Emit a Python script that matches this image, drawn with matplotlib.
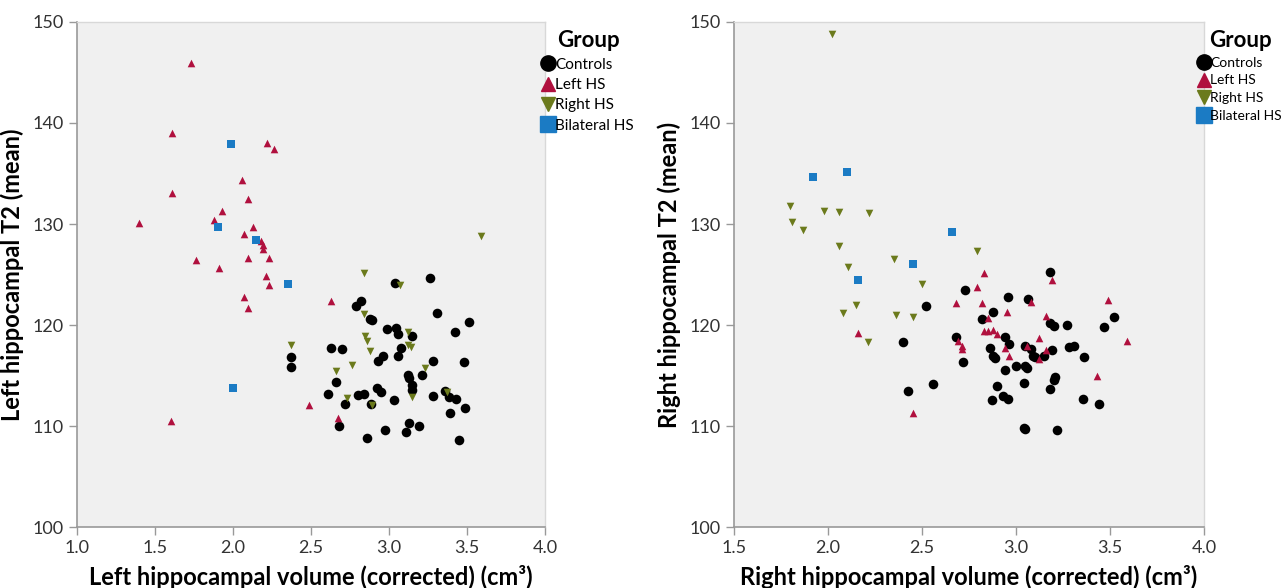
import matplotlib.pyplot as plt
from matplotlib.lines import Line2D

plt.rcParams['font.family'] = ['Lato', 'DejaVu Sans']

# ---- left panel data (volume, T2) ----
l_ctrl_x = [2.37, 2.37, 3.26, 3.04, 2.82, 2.79, 3.31, 3.51, 2.88, 2.89, 3.42, 2.99, 3.045, 3.06, 3.15,
            2.63, 2.70, 3.075, 2.96, 3.055, 2.93, 3.28, 3.48, 3.12, 3.125, 3.21, 2.66, 3.15, 3.15, 2.92,
            2.95, 2.61, 2.80, 2.84, 3.28, 3.36, 3.385, 3.43, 3.03, 2.72, 2.885, 3.49, 3.39, 2.68, 2.975,
            3.13, 3.19, 3.11, 2.86, 3.45]
l_ctrl_y = [116.8, 115.8, 124.7, 124.2, 122.4, 121.9, 121.2, 120.3, 120.6, 120.5, 119.3, 119.6, 119.7, 119.1, 118.9,
            117.7, 117.6, 117.7, 116.9, 116.9, 116.4, 116.4, 116.3, 115.1, 114.8, 115.1, 114.4, 114.1, 113.6, 113.8,
            113.4, 113.2, 113.1, 113.2, 113.0, 113.5, 112.9, 112.7, 112.6, 112.2, 112.2, 111.8, 111.3, 110.0, 109.6,
            110.3, 110.0, 109.4, 108.8, 108.6]

l_lhs_x = [1.73, 1.61, 2.215, 2.26, 2.06, 1.61, 2.095, 1.93, 1.40, 1.88, 2.13, 2.07, 2.18, 2.19, 2.19,
           1.76, 2.095, 2.23, 1.91, 2.21, 2.23, 2.07, 2.095, 2.63, 2.49, 1.60, 2.675]
l_lhs_y = [145.9, 139.0, 138.0, 137.4, 134.4, 133.1, 132.5, 131.3, 130.1, 130.4, 129.7, 129.0, 128.3, 127.9, 127.5,
           126.4, 126.6, 126.6, 125.6, 124.9, 124.0, 122.8, 121.7, 122.4, 112.1, 110.5, 110.8]

l_rhs_x = [2.37, 2.66, 3.59, 2.84, 3.07, 2.84, 3.12, 2.845, 2.86, 3.12, 3.14, 2.88, 3.23, 2.765,
           3.37, 2.73, 3.15, 2.89]
l_rhs_y = [118.0, 115.4, 128.8, 125.1, 124.0, 121.1, 119.3, 118.9, 118.4, 118.0, 117.8, 117.4, 115.7, 116.0,
           113.4, 112.8, 112.9, 112.1]

l_bil_x = [1.985, 1.905, 2.15, 2.35, 2.00]
l_bil_y = [137.9, 129.7, 128.4, 124.1, 113.8]

# ---- right panel data ----
r_ctrl_x = [2.52, 2.40, 3.18, 2.73, 2.955, 3.065, 2.88, 3.52, 2.82, 3.18, 3.20, 3.27, 3.47, 2.68,
            2.94, 2.96, 3.05, 2.86, 3.08, 3.19, 3.28, 3.31, 2.88, 2.89, 3.09, 3.10, 3.15, 3.36, 2.72,
            3.00, 3.05, 3.06, 2.94, 3.205, 3.20, 2.56, 2.90, 3.04, 3.18, 2.425, 2.93, 2.955, 2.87,
            3.355, 3.44, 3.045, 3.05, 3.22]
r_ctrl_y = [121.9, 118.3, 125.2, 123.5, 122.8, 122.6, 121.3, 120.8, 120.6, 120.2, 119.9, 120.0, 119.8, 118.8,
            118.8, 118.1, 117.9, 117.7, 117.6, 117.5, 117.8, 117.9, 116.9, 116.7, 116.9, 116.8, 116.9, 116.8, 116.3,
            115.9, 115.9, 115.7, 115.5, 114.9, 114.6, 114.2, 114.0, 114.3, 113.7, 113.5, 113.0, 112.7, 112.6,
            112.7, 112.2, 109.8, 109.7, 109.6]

r_lhs_x = [2.16, 2.83, 3.19, 2.79, 3.49, 3.08, 2.68, 2.82, 2.95, 3.16, 2.85, 2.83, 2.85, 2.88, 2.90,
           3.59, 2.69, 2.71, 2.71, 3.12, 2.94, 3.06, 3.16, 2.96, 3.12, 3.43, 2.45]
r_lhs_y = [119.2, 125.1, 124.5, 123.8, 122.5, 122.3, 122.2, 122.2, 121.3, 120.9, 120.7, 119.4, 119.4, 119.5, 119.1,
           118.4, 118.4, 117.9, 117.6, 118.7, 117.7, 117.9, 117.5, 116.9, 116.6, 115.0, 111.3]

r_rhs_x = [2.02, 1.80, 1.98, 2.06, 2.22, 1.81, 1.865, 2.06, 2.35, 2.105, 2.50, 2.15, 2.08, 2.36, 2.45,
           2.21, 2.79]
r_rhs_y = [148.8, 131.8, 131.3, 131.2, 131.1, 130.2, 129.4, 127.8, 126.5, 125.7, 124.1, 122.0, 121.2, 121.0, 120.8,
           118.3, 127.3]

r_bil_x = [1.92, 2.10, 2.45, 2.16, 2.66]
r_bil_y = [134.7, 135.1, 126.0, 124.5, 129.2]

groups = ['Controls', 'Left HS', 'Right HS', 'Bilateral HS']
colors = ['#000000', '#B0103E', '#6B7A1C', '#1B7BC4']
markers = ['o', '^', 'v', 's']
sizes = [48, 30, 30, 40]

x_ticks_left = [1.0, 1.5, 2.0, 2.5, 3.0, 3.5, 4.0]
x_ticks_right = [1.5, 2.0, 2.5, 3.0, 3.5, 4.0]
y_ticks = [100, 110, 120, 130, 140, 150]

fig = plt.figure(figsize=(12.84, 5.88), dpi=100)
ax1 = fig.add_axes([0.060, 0.1037, 0.3645, 0.8589])
ax2 = fig.add_axes([0.5717, 0.1037, 0.366, 0.8589])

panels = [
    (ax1, [(l_ctrl_x, l_ctrl_y), (l_lhs_x, l_lhs_y), (l_rhs_x, l_rhs_y), (l_bil_x, l_bil_y)],
     (1.0, 4.0), x_ticks_left, 'Left hippocampal volume (corrected) (cm³)', 'Left hippocampal T2 (mean)', 11, 0.99),
    (ax2, [(r_ctrl_x, r_ctrl_y), (r_lhs_x, r_lhs_y), (r_rhs_x, r_rhs_y), (r_bil_x, r_bil_y)],
     (1.5, 4.0), x_ticks_right, 'Right hippocampal volume (corrected) (cm³)', 'Right hippocampal T2 (mean)', 10, 0.985),
]

for ax, data, xlim, xt, xlabel, ylabel, leg_fs, leg_x in panels:
    ax.set_facecolor('#F0F0F0')
    for (xs, ys), c, m, s in zip(data, colors, markers, sizes):
        ax.scatter(xs, ys, s=s, c=c, marker=m, linewidths=0, zorder=3)
    ax.set_xlim(*xlim)
    ax.set_ylim(100, 150)
    ax.set_xticks(xt)
    ax.set_xticklabels([f'{t:.1f}' for t in xt])
    ax.set_yticks(y_ticks)
    ax.tick_params(axis='both', labelsize=13, colors='#999999', labelcolor='#333333',
                   length=6, width=1, direction='out')
    for side in ['left', 'bottom']:
        ax.spines[side].set_color('#999999')
        ax.spines[side].set_linewidth(1.2)
    for side in ['top', 'right']:
        ax.spines[side].set_color('#D8D8D8')
        ax.spines[side].set_linewidth(1.0)
    ax.set_xlabel(xlabel, fontsize=17, fontweight='bold', labelpad=6)
    ax.set_ylabel(ylabel, fontsize=17, fontweight='bold', labelpad=6)

    handles = [Line2D([], [], linestyle='none', marker=m, color=c, markersize=ms)
               for m, c, ms in zip(markers, colors, [11, 10, 10, 11])]
    leg = ax.legend(handles, groups, title='Group', loc='upper left', bbox_to_anchor=(leg_x, 0.99),
                    frameon=False, fontsize=leg_fs, handlelength=0.6, handletextpad=0.15,
                    labelspacing=0.42, borderaxespad=0.0, borderpad=0.2, alignment='center')
    leg.get_title().set_fontsize(16)
    leg.get_title().set_fontweight('bold')

fig.savefig('out.png', dpi=100)
